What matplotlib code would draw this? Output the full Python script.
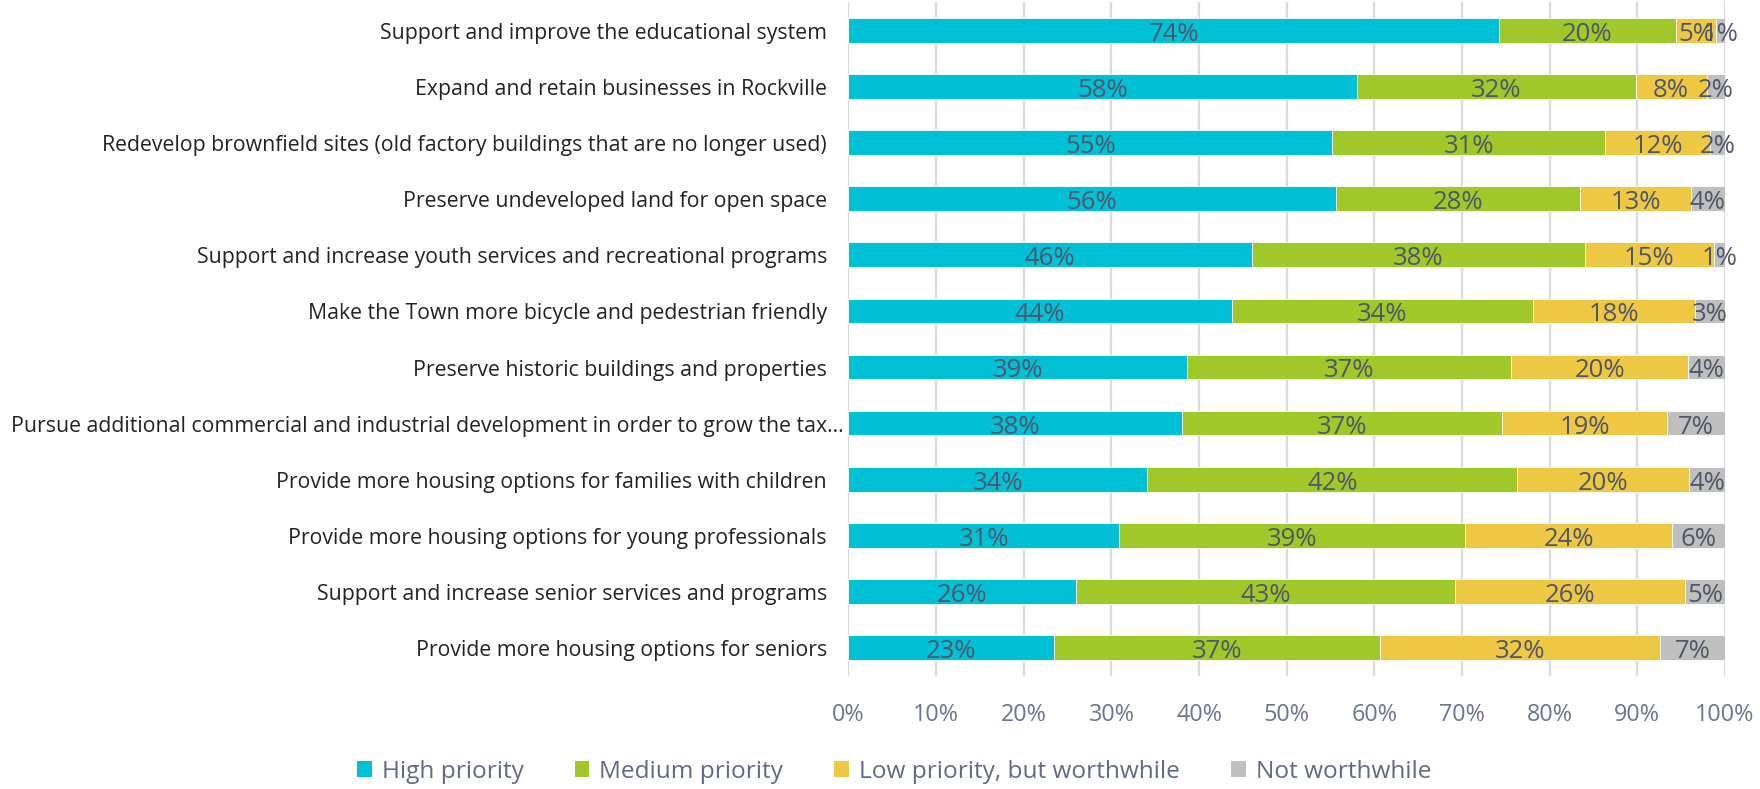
import matplotlib
matplotlib.use("Agg")
import matplotlib.pyplot as plt
from matplotlib.patches import Patch
from matplotlib.transforms import offset_copy
import numpy as np

categories = [
    "Support and improve the educational system",
    "Expand and retain businesses in Rockville",
    "Redevelop brownfield sites (old factory buildings that are no longer used)",
    "Preserve undeveloped land for open space",
    "Support and increase youth services and recreational programs",
    "Make the Town more bicycle and pedestrian friendly",
    "Preserve historic buildings and properties",
    "Pursue additional commercial and industrial development in order to grow the tax...",
    "Provide more housing options for families with children",
    "Provide more housing options for young professionals",
    "Support and increase senior services and programs",
    "Provide more housing options for seniors",
]
high = [74.2, 58.0, 55.2, 55.6, 46.0, 43.7, 38.6, 38.0, 34.1, 30.9, 26.0, 23.4]
medium = [20.2, 31.8, 31.1, 27.9, 38.0, 34.4, 37.0, 36.6, 42.2, 39.4, 43.2, 37.2]
low = [4.6, 8.1, 12.0, 12.6, 14.7, 18.5, 20.2, 18.8, 19.6, 23.7, 26.2, 32.0]
notw = [1.0, 2.1, 1.7, 3.9, 1.3, 3.4, 4.2, 6.6, 4.1, 6.0, 4.6, 7.4]
series_names = ["High priority", "Medium priority", "Low priority, but worthwhile", "Not worthwhile"]
colors = ["#00C0D6", "#A0C828", "#EEC843", "#BFBFBF"]
xticks = [0, 10, 20, 30, 40, 50, 60, 70, 80, 90, 100]

FONT = ["Open Sans", "DejaVu Sans"]
plt.rcParams["font.family"] = FONT

fig = plt.figure(figsize=(17.6, 7.89), dpi=100)
ax = fig.add_axes([0.4821, 0.1437, 0.498, 0.8534])

y = np.arange(len(categories))
left = np.zeros(len(categories))
for vals, name, c in zip([high, medium, low, notw], series_names, colors):
    vals = np.array(vals)
    ax.barh(y, vals, left=left, height=0.44, color=c, label=name, zorder=3,
            edgecolor="white", linewidth=0.6)
    for yi, l, v in zip(y, left, vals):
        ax.text(l + v / 2, yi + 0.07, f"{int(round(v))}%", ha="center", va="center",
                fontsize=18.5, color="#4f576b", zorder=4)
    left = left + vals

ax.set_xlim(0, 100)
ax.set_ylim(len(categories) - 0.5, -0.5)
ax.set_xticks(xticks)
ax.set_xticklabels([f"{t}%" for t in xticks], fontsize=16.8, color="#6b7590")
ax.set_yticks([])
ax.tick_params(axis="x", length=0, pad=20)
ax.grid(axis="x", color="#d9d9e3", linewidth=1.6, zorder=0)
for s in ax.spines.values():
    s.set_visible(False)

# category labels (the truncated long label sits closer to the axis, as in the reference)
for yi, cat in zip(y, categories):
    gap = 4.5 if cat.endswith("...") else 21.5
    tr = offset_copy(ax.get_yaxis_transform(), fig=fig, x=-gap, y=-3, units="dots")
    ax.text(0, yi, cat, transform=tr, ha="right", va="center", fontsize=15.3,
            color="#222222", clip_on=False)

handles = [Patch(facecolor=c, edgecolor="none") for c in colors]
fig.legend(handles, series_names, loc="center", bbox_to_anchor=(0.508, 0.022), ncol=4,
           frameon=False, fontsize=17.6, labelcolor="#5f6a85", handlelength=0.6,
           handleheight=0.6, handletextpad=0.4, columnspacing=2.1)

fig.savefig("out.png", dpi=100)
